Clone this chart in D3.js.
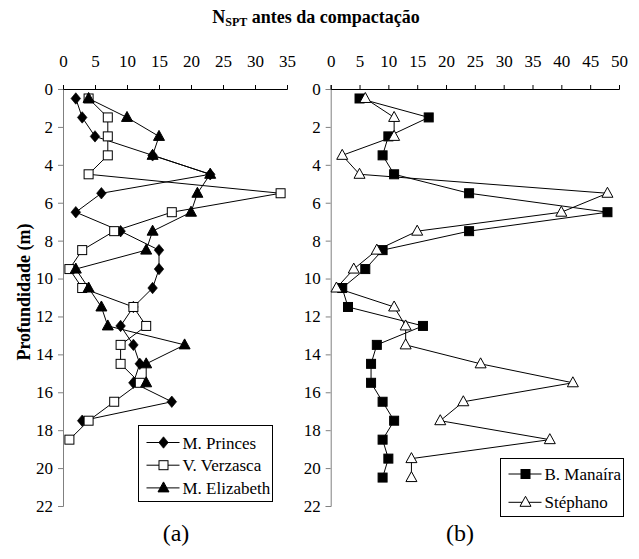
<!DOCTYPE html>
<html>
<head>
<meta charset="utf-8">
<script src="https://cdn.jsdelivr.net/npm/d3@7"></script>
<style>
  body { margin: 0; background: #fff; }
  svg, svg text { font-family: "Liberation Serif", "Times New Roman", Tinos, "DejaVu Serif", serif !important; }
</style>
</head>
<body>
<div id="chart"></div>
<script>
// profundidades (m)
var depthA = [0.5,1.5,2.5,3.5,4.5,5.5,6.5,7.5,8.5,9.5,10.5,11.5,12.5,13.5,14.5,15.5,16.5,17.5,18.5];
var depthB = [0.5,1.5,2.5,3.5,4.5,5.5,6.5,7.5,8.5,9.5,10.5,11.5,12.5,13.5,14.5,15.5,16.5,17.5,18.5,19.5,20.5];

// NSPT - painel (a)
var princes   = [2,3,5,14,23,6,2,9,15,15,14,11,9,11,12,11,17,3];
var verzasca  = [4,7,7,7,4,34,17,8,3,1,3,11,13,9,9,12,8,4,1];
var elizabeth = [4,10,15,14,23,21,20,14,13,2,4,6,7,19,13,13];

// NSPT - painel (b)
var manaira  = [5,17,10,9,11,24,48,24,9,6,2,3,16,8,7,7,9,11,9,10,9];
var stephano = [6,11,11,2,5,48,40,15,8,4,1,11,13,13,26,42,23,19,38,14,14];

var ticksA = [0,5,10,15,20,25,30,35];
var ticksB = [0,5,10,15,20,25,30,35,40,45,50];
var ticksY = [0,2,4,6,8,10,12,14,16,18,20,22];

var W = 639, H = 559;
var svg = d3.select("#chart").append("svg").attr("width", W).attr("height", H);

var y = d3.scaleLinear().domain([0, 22]).range([89, 506]);

function triPath(cx, cy) {
  return "M" + cx + "," + (cy - 6) + "L" + (cx + 5.5) + "," + (cy + 4) + "L" + (cx - 5.5) + "," + (cy + 4) + "Z";
}

function marker(g, type, cx, cy) {
  if (type == "diamond") {
    g.append("path").attr("d", d3.symbol().type(d3.symbolDiamond2).size(58)())
      .attr("transform", "translate(" + cx + "," + cy + ") scale(1,1.2)")
      .attr("fill", "#000").attr("stroke", "#000").attr("stroke-width", 0.6);
  } else if (type == "square" || type == "fsquare") {
    g.append("rect").attr("x", cx - 4.5).attr("y", cy - 4.5).attr("width", 9).attr("height", 9)
      .attr("fill", type == "square" ? "#fff" : "#000").attr("stroke", "#000").attr("stroke-width", 1);
  } else if (type == "triangle" || type == "otriangle") {
    g.append("path").attr("d", triPath(cx, cy))
      .attr("fill", type == "triangle" ? "#000" : "#fff").attr("stroke", "#000").attr("stroke-width", 1);
  }
}

function panel(x, ticks, series, legend, label) {
  var g = svg.append("g");

  // eixo y (cinza)
  var ya = g.append("g").attr("transform", "translate(" + x.range()[0] + ",0)")
    .call(d3.axisLeft(y).tickValues(ticksY).tickSize(5).tickPadding(5).tickFormat(d3.format("d")));
  ya.attr("font-family", null);
  ya.select(".domain").attr("stroke", "#808080");
  ya.selectAll(".tick line").attr("stroke", "#808080");
  ya.selectAll("text").attr("font-size", 17).attr("fill", "#000");

  // eixo x no topo
  var xa = g.append("g").attr("transform", "translate(0," + y(0) + ")")
    .call(d3.axisTop(x).tickValues(ticks).tickSizeInner(4).tickSizeOuter(4).tickPadding(18));
  xa.attr("font-family", null);
  xa.select(".domain").attr("stroke", "#000");
  xa.selectAll("text").attr("font-size", 17).attr("fill", "#000");

  series.forEach(function(s) {
    var pts = s.values.map(function(v, i) { return [x(v), y(s.depth[i])]; });
    g.append("path").attr("d", d3.line()(pts)).attr("fill", "none").attr("stroke", "#000").attr("stroke-width", 1);
  });
  series.forEach(function(s) {
    s.values.forEach(function(v, i) { marker(g, s.type, x(v), y(s.depth[i])); });
  });

  // legenda
  var lg = g.append("g");
  lg.append("rect").attr("x", legend.x).attr("y", legend.y).attr("width", legend.w).attr("height", legend.h)
    .attr("fill", "#fff").attr("stroke", "#000").attr("stroke-width", 1);
  series.forEach(function(s, i) {
    var ly = legend.y + legend.first + i * legend.step;
    lg.append("line").attr("x1", legend.x + 8).attr("x2", legend.x + 41).attr("y1", ly).attr("y2", ly)
      .attr("stroke", "#000");
    marker(lg, s.type, legend.x + 25, ly);
    lg.append("text").attr("x", legend.x + 44).attr("y", ly + 6).attr("font-size", 17).text(s.name);
  });

  g.append("text").attr("x", label.x).attr("y", 541).attr("text-anchor", "middle")
    .attr("font-size", 24).text(label.t);
}

var xA = d3.scaleLinear().domain([0, 35]).range([63, 287]);
var xB = d3.scaleLinear().domain([0, 50]).range([330.7, 619]);

panel(xA, ticksA, [
  {name: "M. Princes", values: princes, depth: depthA, type: "diamond"},
  {name: "V. Verzasca", values: verzasca, depth: depthA, type: "square"},
  {name: "M. Elizabeth", values: elizabeth, depth: depthA, type: "triangle"}
], {x: 138.5, y: 425.5, w: 134, h: 76, first: 17, step: 22.7}, {x: 176, t: "(a)"});

panel(xB, ticksB, [
  {name: "B. Manaíra", values: manaira, depth: depthB, type: "fsquare"},
  {name: "Stéphano", values: stephano, depth: depthB, type: "otriangle"}
], {x: 500.5, y: 458.5, w: 123, h: 58, first: 15.5, step: 28.3}, {x: 460, t: "(b)"});

// título
var t = svg.append("text").attr("x", 316).attr("y", 23).attr("text-anchor", "middle")
  .attr("font-size", 18).attr("font-weight", "bold");
t.append("tspan").text("N");
t.append("tspan").attr("font-size", 12).attr("dy", 3).text("SPT");
t.append("tspan").attr("dy", -3).text(" antes da compactação");

// rótulo eixo y
svg.append("text").attr("transform", "translate(30,292) rotate(-90)").attr("text-anchor", "middle")
  .attr("font-size", 18).attr("font-weight", "bold").text("Profundidade (m)");
</script>
</body>
</html>
